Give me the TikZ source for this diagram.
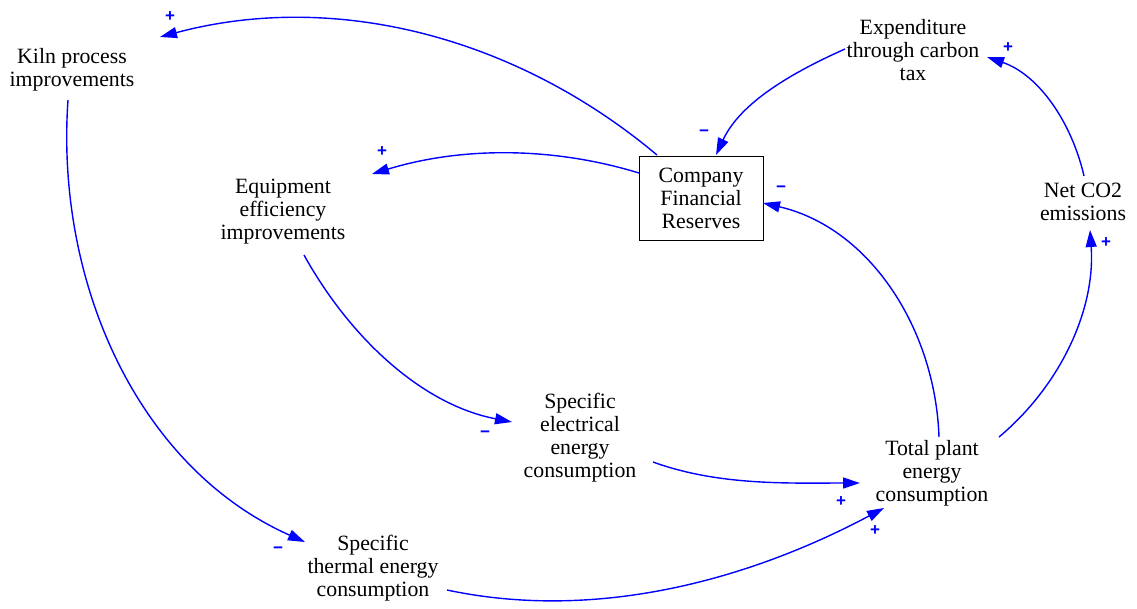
\documentclass[tikz,border=0pt]{standalone}
\usepackage{fontspec}
\setmainfont{Liberation Serif}
\newfontfamily\polfont{Liberation Sans}
\usetikzlibrary{arrows.meta}

\begin{document}
\begin{tikzpicture}[x=1pt,y=1pt,
    var/.style={align=center,font=\fontsize{21.8}{23}\selectfont,inner sep=0pt},
    stock/.style={var,draw,line width=1pt,minimum width=124pt,minimum height=84pt},
    link/.style={draw=blue,line width=1.4pt,-{Triangle[length=17pt,width=11pt]}},
    pol/.style={text=blue,font=\polfont\bfseries\fontsize{17}{17}\selectfont,inner sep=0pt}]
  \useasboundingbox (0,0) rectangle (1137,-608);

  \node[var] (kiln) at (72,-70) {Kiln process\\improvements};
  \node[var] (expend) at (913,-50) {Expenditure\\through carbon\\tax};
  \node[var] (equip) at (283,-212) {Equipment\\efficiency\\improvements};
  \node[stock] (res) at (701,-198) {Company\\Financial\\Reserves};
  \node[var] (netco) at (1083,-202) {Net CO2\\emissions};
  \node[var] (elec) at (580,-438) {Specific\\electrical\\energy\\consumption};
  \node[var] (total) at (932,-473) {Total plant\\energy\\consumption};
  \node[var] (thermal) at (373,-568) {Specific\\thermal energy\\consumption};

  \draw[link] ([shift={(-44,43)}]res.center) .. controls +(140:185) and +(15:180) .. ([shift={(88,33)}]kiln.center);
  \draw[link] ([shift={(-62,25)}]res.center) .. controls +(163:92) and +(17:92) .. ([shift={(89,38)}]equip.center);
  \draw[link] ([shift={(-68,1)}]expend.center) .. controls +(204:58) and +(65:58) .. ([shift={(15,43)}]res.center);
  \draw[link] ([shift={(1,26)}]netco.center) .. controls +(103:55) and +(341:55) .. ([shift={(74,-7)}]expend.center);
  \draw[link] ([shift={(7,36)}]total.center) .. controls +(92:109) and +(347:109) .. ([shift={(62,-5)}]res.center);
  \draw[link] ([shift={(67,36)}]total.center) .. controls +(40:80) and +(274:80) .. ([shift={(7,-28)}]netco.center);
  \draw[link] ([shift={(-4,-30)}]kiln.center) .. controls +(266:183) and +(156:183) .. ([shift={(-68,26)}]thermal.center);
  \draw[link] ([shift={(21,-43)}]equip.center) .. controls +(299:93) and +(169:93) .. ([shift={(-68,16)}]elec.center);
  \draw[link] ([shift={(73,-24)}]elec.center) .. controls +(340:70) and +(180:70) .. ([shift={(-72,-10)}]total.center);
  \draw[link] ([shift={(74,-22)}]thermal.center) .. controls +(348:153) and +(208:153) .. ([shift={(-48,-35)}]total.center);

  \node[pol] (pkiln) at (170,-17) {+};
  \node[pol] (pequip) at (382,-152) {+};
  \node[pol] (pres1) at (704,-133) {−};
  \node[pol] (pexp) at (1008,-48) {+};
  \node[pol] (pres2) at (781,-189) {−};
  \node[pol] (pnet) at (1106,-243) {+};
  \node[pol] (ptherm) at (278,-550) {−};
  \node[pol] (pelec) at (485,-434) {−};
  \node[pol] (ptot1) at (841,-502) {+};
  \node[pol] (ptot2) at (875,-531) {+};
\end{tikzpicture}
\end{document}
